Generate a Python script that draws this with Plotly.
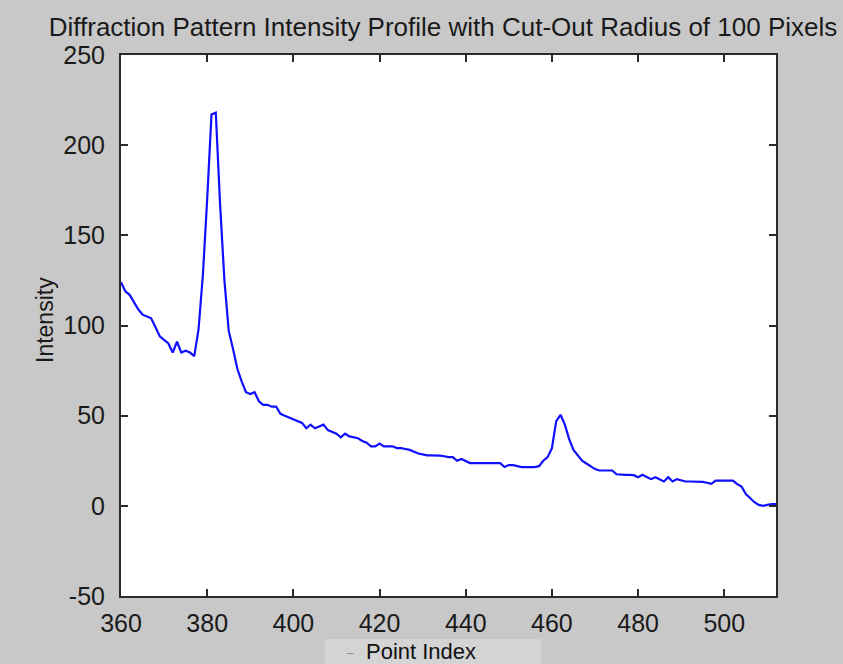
import plotly.graph_objects as go

point_index = list(range(360, 513))
intensity = [
    124, 119, 117, 113, 109, 106, 105, 104, 99, 94,          # 360-369
    92, 90, 85, 91, 85, 86, 85, 83, 98, 128,                 # 370-379
    170, 217, 218, 167, 125, 97, 87, 76, 69, 63,             # 380-389
    62, 63, 58, 56, 56, 55, 55, 51, 50, 49,                  # 390-399
    48, 47, 46, 43, 45, 43, 44, 45, 42, 41,                  # 400-409
    40, 38, 40, 38.5, 38, 37.5, 36, 35, 33, 33,              # 410-419
    34.5, 33, 33, 33, 32, 32, 31.5, 31, 30, 29,              # 420-429
    28.5, 28, 28, 28, 27.8, 27.5, 27, 27, 25, 26,            # 430-439
    25, 23.7, 23.7, 23.7, 23.7, 23.7, 23.7, 23.7, 23.7, 21.5,  # 440-449
    22.6, 22.6, 22, 21.5, 21.5, 21.5, 21.5, 22, 25, 27,      # 450-459
    32, 47, 50.5, 45, 37, 31, 28, 25, 23.5, 22,              # 460-469
    20.4, 19.6, 19.6, 19.6, 19.6, 17.5, 17.2, 17.2, 17.2, 17,  # 470-479
    15.9, 17.2, 16, 14.8, 15.9, 14.5, 13.5, 15.9, 13.5, 14.8,  # 480-489
    14, 13.5, 13.5, 13.5, 13.5, 13.3, 12.8, 12.2, 14, 14,    # 490-499
    14, 14, 14, 12, 10.7, 6.5, 4, 2, 0.5, 0,                 # 500-509
    0.5, 1, 1,                                               # 510-512
]

x_ticks = [360, 380, 400, 420, 440, 460, 480, 500]
y_ticks = [-50, 0, 50, 100, 150, 200, 250]
y_tick_text = ["-50", "0", "50", "100", "150", "200", "250"]

title_text = "Diffraction Pattern Intensity Profile with Cut-Out Radius of 100 Pixels"
x_label = "Point Index"
y_label = "Intensity"

FONT = "Liberation Sans, Arial, sans-serif"
AXC = "#2a2a2a"

fig = go.Figure()
fig.add_trace(go.Scatter(x=point_index, y=intensity, mode="lines",
                         line=dict(color="#1010ff", width=2.2), showlegend=False))

L, R, T, B = 121, 67, 55, 68
W, H = 843, 664
pw, ph = W - L - R, H - T - B

def px(xp):
    return (xp - L) / pw

def py(yp):
    return (H - B - yp) / ph

fig.update_layout(
    width=W, height=H,
    margin=dict(l=L, r=R, t=T, b=B),
    paper_bgcolor="#c8c8c8",
    plot_bgcolor="white",
    font=dict(family=FONT, color="#1a1a1a", size=25),
    title=dict(text=title_text, x=px(443), xanchor="center", xref="paper",
               y=1 - 27 / H, yanchor="middle",
               font=dict(family=FONT, size=26, color="#1a1a1a")),
    xaxis=dict(range=[360, 512], tickvals=x_ticks, ticks="inside", ticklen=7,
               tickwidth=2, tickcolor=AXC, showline=True, linecolor=AXC,
               linewidth=2, mirror="allticks", showgrid=False, zeroline=False,
               ticklabelstandoff=4, tickfont=dict(size=25)),
    yaxis=dict(range=[-50, 250], tickvals=y_ticks, ticktext=y_tick_text,
               ticks="inside", ticklen=7,
               tickwidth=2, tickcolor=AXC, showline=True, linecolor=AXC,
               linewidth=2, mirror="allticks", showgrid=False, zeroline=False,
               ticklabelstandoff=9, tickfont=dict(size=25)),
    shapes=[dict(type="rect", xref="paper", yref="paper",
                 x0=px(325), x1=px(541), y0=py(664), y1=py(639),
                 fillcolor="#d4d4d4", line=dict(width=0), layer="below")],
    annotations=[
        dict(text=x_label, xref="paper", yref="paper", x=px(421), y=py(651),
             xanchor="center", yanchor="middle", showarrow=False,
             font=dict(family=FONT, size=22, color="#111111")),
        dict(text="–", xref="paper", yref="paper", x=px(350), y=py(653),
             xanchor="center", yanchor="middle", showarrow=False,
             font=dict(family=FONT, size=12, color="#888888")),
        dict(text=y_label, xref="paper", yref="paper", x=px(45), y=py(320),
             xanchor="center", yanchor="middle", showarrow=False, textangle=-90,
             font=dict(family=FONT, size=23, color="#1a1a1a")),
    ],
)

fig.write_html("out.html")
